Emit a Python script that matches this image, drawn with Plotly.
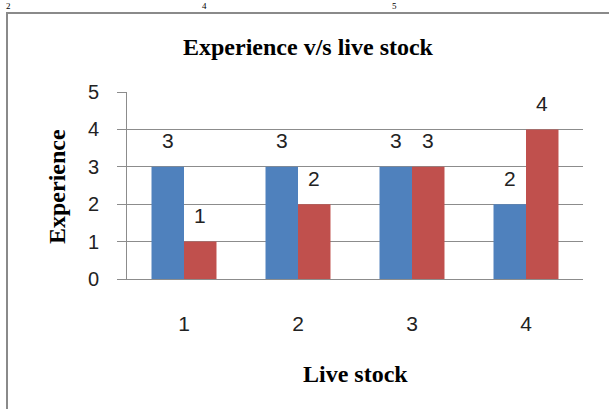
import plotly.graph_objects as go

categories = [1, 2, 3, 4]
series_a = [3, 3, 3, 2]   # blue
series_b = [1, 2, 3, 4]   # red
y_ticks = [0, 1, 2, 3, 4, 5]
title_text = "Experience v/s live stock"
x_title = "Live stock"
y_title = "Experience"
page_numbers = ["2", "4", "5"]

W, H = 609, 409
L, R, T, B = 127, 26, 92, 130
PW, PH = W - L - R, H - T - B

def px(x):
    return (x - L) / PW

def py(y):
    return (H - B - y) / PH

BLUE = "#4F81BD"
RED = "#C0504D"
GRID = "#8c8c8c"
TXT = "#222222"
bargap = 0.43
half = (1 - bargap) / 4

fig = go.Figure()
fig.add_trace(go.Bar(x=categories, y=series_a, marker=dict(color=BLUE, line=dict(width=0)), name="A"))
fig.add_trace(go.Bar(x=categories, y=series_b, marker=dict(color=RED, line=dict(width=0)), name="B"))

annotations = []
for c, v in zip(categories, series_a):
    annotations.append(dict(x=c - half, y=v, xref="x", yref="y", text=str(v), showarrow=False,
                            yanchor="middle", yshift=26, font=dict(family="Liberation Sans", size=21, color=TXT)))
for c, v in zip(categories, series_b):
    annotations.append(dict(x=c + half, y=v, xref="x", yref="y", text=str(v), showarrow=False,
                            yanchor="middle", yshift=26, font=dict(family="Liberation Sans", size=21, color=TXT)))

serif_bold = dict(family="Liberation Serif", size=24, color="#000000")
annotations.append(dict(x=px(308), y=py(47), xref="paper", yref="paper", text="<b>%s</b>" % title_text,
                        showarrow=False, xanchor="center", yanchor="middle", font=serif_bold))
annotations.append(dict(x=px(355), y=py(374), xref="paper", yref="paper", text="<b>%s</b>" % x_title,
                        showarrow=False, xanchor="center", yanchor="middle", font=serif_bold))
annotations.append(dict(x=px(57), y=py(187), xref="paper", yref="paper", text="<b>%s</b>" % y_title,
                        showarrow=False, xanchor="center", yanchor="middle", textangle=-90, font=serif_bold))

# page numbers of the surrounding document, in the thin strip above the chart box
for txt, xc in zip(page_numbers, [9, 204, 394]):
    annotations.append(dict(x=px(xc), y=py(0), xref="paper", yref="paper", text=txt,
                            showarrow=False, xanchor="center", yanchor="top", borderpad=0,
                            font=dict(family="Liberation Serif", size=9, color="#000000")))

fig.update_layout(
    width=W, height=H,
    margin=dict(l=L, r=R, t=T, b=B, pad=0),
    paper_bgcolor="white", plot_bgcolor="white",
    barmode="group", bargap=bargap, bargroupgap=0,
    showlegend=False,
    annotations=annotations,
    shapes=[dict(type="rect", xref="paper", yref="paper",
                 x0=px(7), x1=px(640), y0=py(440), y1=py(13),
                 line=dict(color="#8a8a8a", width=2), fillcolor="rgba(0,0,0,0)", layer="below")],
    xaxis=dict(range=[0.5, 4.5], tickvals=categories, ticktext=[str(c) for c in categories],
               showgrid=False, zeroline=False, showline=True, linecolor=GRID, linewidth=1,
               ticks="", ticklabelstandoff=26,
               tickfont=dict(family="Liberation Sans", size=21, color=TXT), fixedrange=True),
    yaxis=dict(range=[0, 5], tickvals=y_ticks, showgrid=True, gridcolor=GRID, gridwidth=1,
               zeroline=False, showline=True, linecolor=GRID, linewidth=1,
               ticks="outside", ticklen=9, tickcolor=GRID, tickwidth=1, ticklabelstandoff=14,
               tickfont=dict(family="Liberation Sans", size=20, color=TXT), fixedrange=True),
)

fig.write_html("out.html")
